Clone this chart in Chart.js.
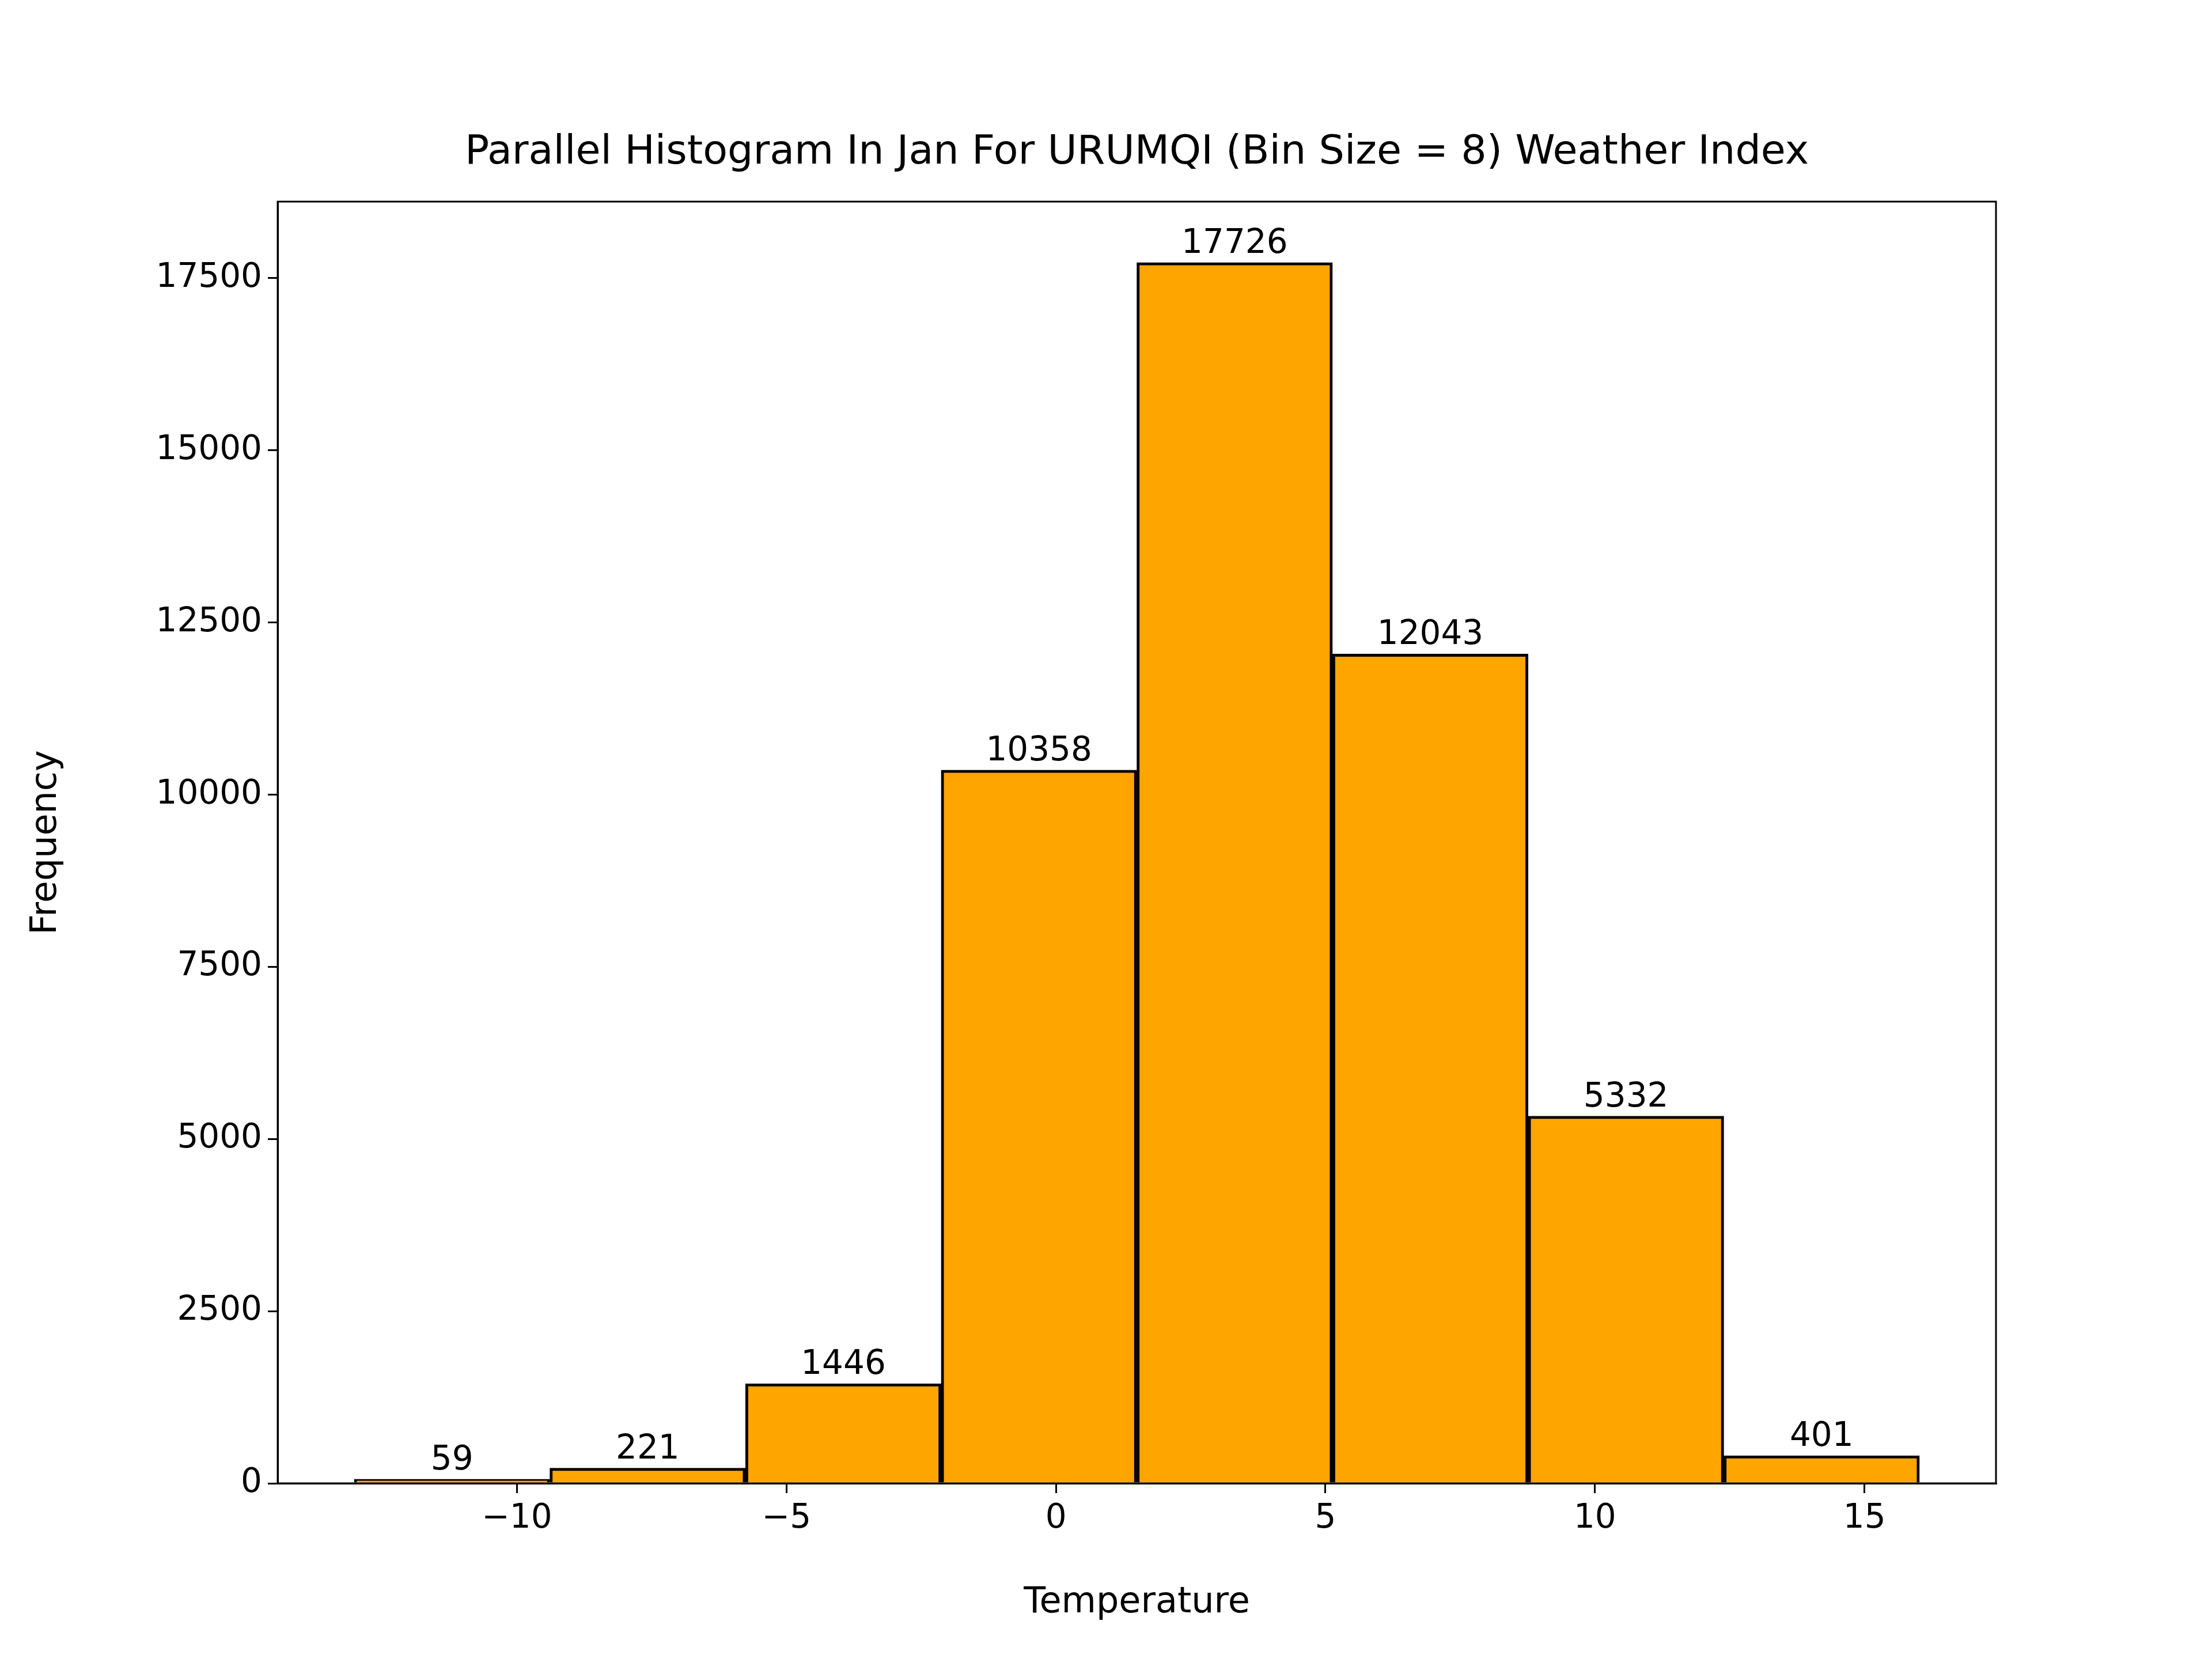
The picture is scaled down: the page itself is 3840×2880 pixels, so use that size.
<!DOCTYPE html>
<html><head><meta charset="utf-8">
<script src="https://cdn.jsdelivr.net/npm/chart.js@4"></script>
<style>html,body{margin:0;padding:0;background:#fff}#w{width:3840px;height:2880px}</style>
</head><body><div id="w"><canvas id="c"></canvas></div>
<script>
const binCenters = [-11.205, -7.575, -3.945, -0.315, 3.315, 6.945, 10.575, 14.205];
const counts = [59, 221, 1446, 10358, 17726, 12043, 5332, 401];
const xTicks = [-10, -5, 0, 5, 10, 15];
const yTicks = [0, 2500, 5000, 7500, 10000, 12500, 15000, 17500];
const titleText = 'Parallel Histogram In Jan For URUMQI (Bin Size = 8) Weather Index';
const F = 'DejaVu Sans';
const labelsPlugin = {
  id: 'lbl',
  afterDatasetsDraw(chart) {
    const ctx = chart.ctx, meta = chart.getDatasetMeta(0);
    ctx.save(); ctx.font = '58px ' + F; ctx.fillStyle = '#000'; ctx.textAlign = 'center'; ctx.textBaseline = 'bottom';
    meta.data.forEach((b, i) => ctx.fillText(String(counts[i]), b.x, b.y - 3));
    const a = chart.chartArea; ctx.strokeStyle = '#000'; ctx.lineWidth = 3;
    ctx.strokeRect(a.left, a.top, a.right - a.left, a.bottom - a.top);
    ctx.font = '70px ' + F; ctx.textBaseline = 'middle';
    ctx.fillText(titleText, (a.left + a.right) / 2, 266);
    ctx.restore();
  }
};
new Chart(document.getElementById('c'), {
  type: 'bar',
  data: { datasets: [{ data: binCenters.map((x, i) => ({ x, y: counts[i] })),
    backgroundColor: '#ffa500', borderColor: '#000', borderWidth: 5, barPercentage: 1, categoryPercentage: 1 }] },
  options: {
    responsive: true, maintainAspectRatio: false, animation: false,
    layout: { padding: { left: 40, right: 375, top: 350, bottom: 0 } },
    plugins: { legend: { display: false }, tooltip: { enabled: false }, title: { display: false } },
    scales: {
      x: { type: 'linear', min: -14.44, max: 17.44, offset: false,
        afterBuildTicks: s => { s.ticks = xTicks.map(v => ({ value: v })); },
        ticks: { font: { family: F, size: 58 }, color: '#000', padding: 10, callback: v => String(v).replace('-', '\u2212') },
        grid: { offset: false, drawOnChartArea: false, drawTicks: true, tickLength: 17, color: '#000', lineWidth: 3 },
        border: { color: '#000', width: 3 },
        title: { display: true, text: 'Temperature', font: { family: F, size: 62 }, color: '#000', padding: { top: 15, bottom: 60 } },
        afterFit: s => { s.height = 305; } },
      y: { min: 0, max: 18612,
        afterBuildTicks: s => { s.ticks = yTicks.map(v => ({ value: v })); },
        ticks: { font: { family: F, size: 58 }, color: '#000', padding: 10, callback: v => String(v) },
        grid: { drawOnChartArea: false, drawTicks: true, tickLength: 17, color: '#000', lineWidth: 3 },
        border: { color: '#000', width: 3 },
        title: { display: true, text: 'Frequency', font: { family: F, size: 62 }, color: '#000', padding: { bottom: 20 } },
        afterFit: s => { s.width = 442; } }
    }
  },
  plugins: [labelsPlugin]
});
</script></body></html>
